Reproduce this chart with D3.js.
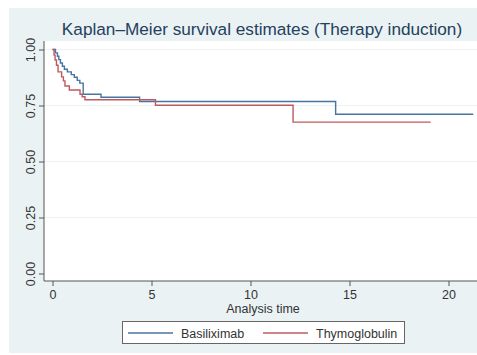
<!DOCTYPE html>
<html>
<head>
<meta charset="utf-8">
<script src="https://cdn.jsdelivr.net/npm/d3@7"></script>
<style>
  html, body { margin: 0; padding: 0; background: #fff; }
  svg { display: block; font-family: "Liberation Sans", Arial, Helvetica, sans-serif; }
</style>
</head>
<body>
<div id="chart"></div>
<script>
const width = 477;
const height = 355;

const xTicks = [0, 5, 10, 15, 20];
const yTicks = [0, 0.25, 0.5, 0.75, 1];
const groups = ['Basiliximab', 'Thymoglobulin'];

// step points: [time, survival]
const basiliximab = [
  [0, 1.0], [0.15, 0.985], [0.25, 0.97], [0.32, 0.955], [0.4, 0.94], [0.5, 0.925],
  [0.6, 0.912], [0.75, 0.9], [0.95, 0.888], [1.1, 0.876], [1.25, 0.862], [1.38, 0.85],
  [1.55, 0.80], [2.45, 0.787], [4.4, 0.768], [14.3, 0.711], [21.25, 0.711]
];
const thymoglobulin = [
  [0, 1.0], [0.08, 0.975], [0.13, 0.953], [0.2, 0.93], [0.28, 0.9], [0.46, 0.878],
  [0.55, 0.86], [0.63, 0.837], [0.85, 0.819], [1.39, 0.80], [1.5, 0.789],
  [1.64, 0.776], [5.2, 0.751], [12.15, 0.676], [19.1, 0.676]
];
const series = [basiliximab, thymoglobulin];
const colors = ['#46769e', '#be5a5f'];

const svg = d3.select('#chart').append('svg')
  .attr('width', width)
  .attr('height', height);

// outer graph region
svg.append('rect')
  .attr('x', 9).attr('y', 8)
  .attr('width', width - 9).attr('height', 345)
  .attr('fill', '#eaf2f3');

const plot = { left: 44, top: 41, right: 477, bottom: 281 };

svg.append('rect')
  .attr('x', plot.left).attr('y', plot.top)
  .attr('width', plot.right - plot.left).attr('height', plot.bottom - plot.top)
  .attr('fill', '#fff');

const x = d3.scaleLinear().domain([0, 20]).range([52.5, 448.5]);
const y = d3.scaleLinear().domain([0, 1]).range([273.5, 49.5]);

// gridlines
svg.append('g')
  .selectAll('line')
  .data(yTicks.filter(d => d > 0))
  .join('line')
  .attr('x1', plot.left).attr('x2', plot.right)
  .attr('y1', d => y(d)).attr('y2', d => y(d))
  .attr('stroke', '#eaf2f3')
  .attr('stroke-width', 1);

// y axis
const yAxis = svg.append('g')
  .attr('transform', `translate(${plot.left},0)`)
  .call(d3.axisLeft(y).tickValues(yTicks).tickFormat(d3.format('.2f')).tickSize(5).tickPadding(4));
yAxis.select('.domain').attr('d', `M0,${plot.top}V${plot.bottom}`).attr('stroke', '#555');
yAxis.selectAll('.tick line').attr('stroke', '#555');
yAxis.selectAll('.tick text')
  .attr('font-size', 12.5)
  .attr('fill', '#333')
  .attr('x', 0).attr('dy', 0)
  .attr('transform', 'translate(-9.5,0) rotate(-90)')
  .attr('text-anchor', 'middle');

// x axis
const xAxis = svg.append('g')
  .attr('transform', `translate(0,${plot.bottom})`)
  .call(d3.axisBottom(x).tickValues(xTicks).tickSize(5).tickPadding(4));
xAxis.select('.domain').attr('d', `M${plot.left},0H${plot.right}`).attr('stroke', '#555');
xAxis.selectAll('.tick line').attr('stroke', '#555');
xAxis.selectAll('.tick text').attr('font-size', 12.5).attr('fill', '#333');

svg.append('text')
  .attr('x', 263).attr('y', 313)
  .attr('text-anchor', 'middle')
  .attr('font-size', 12.5)
  .attr('fill', '#333')
  .text('Analysis time');

// survival curves
const line = d3.line()
  .x(d => x(d[0]))
  .y(d => y(d[1]))
  .curve(d3.curveStepAfter);

svg.append('g')
  .selectAll('path')
  .data(series)
  .join('path')
  .attr('d', d => line(d))
  .attr('fill', 'none')
  .attr('stroke', (d, i) => colors[i])
  .attr('stroke-width', 1.4);

// title
svg.append('text')
  .attr('x', 262).attr('y', 35)
  .attr('text-anchor', 'middle')
  .attr('font-size', 17.2)
  .attr('fill', '#24405e')
  .text('Kaplan\u2013Meier survival estimates (Therapy induction)');

// legend
const legend = svg.append('g');
legend.append('rect')
  .attr('x', 122.5).attr('y', 321.5)
  .attr('width', 282).attr('height', 22)
  .attr('fill', '#fff')
  .attr('stroke', '#666');

const legendX = [128, 263];
groups.forEach((name, i) => {
  legend.append('line')
    .attr('x1', legendX[i]).attr('x2', legendX[i] + 45)
    .attr('y1', 333).attr('y2', 333)
    .attr('stroke', colors[i])
    .attr('stroke-width', 1.4);
  legend.append('text')
    .attr('x', legendX[i] + 53).attr('y', 337.5)
    .attr('font-size', 12.5)
    .attr('fill', '#333')
    .text(name);
});
</script>
</body>
</html>
